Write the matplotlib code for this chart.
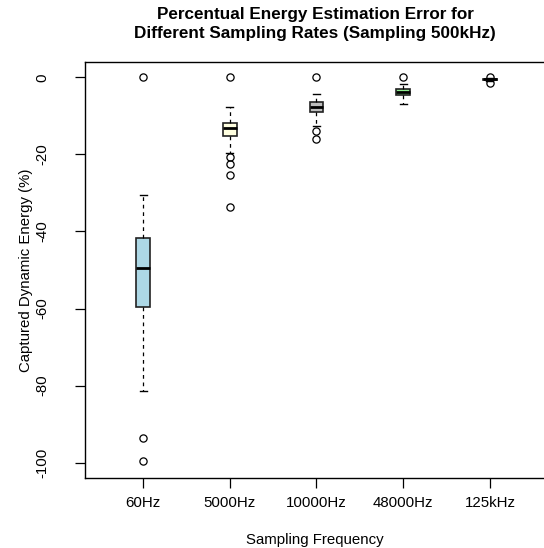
import matplotlib
matplotlib.use("Agg")
import matplotlib.pyplot as plt

plt.rcParams['font.family'] = ['Liberation Sans', 'DejaVu Sans']

# values (captured energy, %)
labels = ["60Hz", "5000Hz", "10000Hz", "48000Hz", "125kHz"]
q1 = [-59.5, -15.3, -8.9, -4.5, -0.8]
med = [-49.6, -13.2, -7.8, -3.8, -0.5]
q3 = [-41.8, -11.9, -6.5, -3.0, -0.3]
whislo = [-81.4, -19.6, -12.6, -6.9, -0.9]
whishi = [-30.6, -7.8, -4.3, -1.8, -0.2]
fliers = [[0.0, -93.7, -99.7],
          [0.0, -20.6, -22.4, -25.3, -33.6],
          [0.0, -13.9, -16.0],
          [0.0],
          [0.0, -1.4]]
colors = ["lightblue", "lightyellow", "#bebebe", "lightgreen", "mistyrose"]

stats = []
for i in range(len(labels)):
    stats.append(dict(q1=q1[i], med=med[i], q3=q3[i], whislo=whislo[i],
                      whishi=whishi[i], fliers=fliers[i], label=labels[i]))

fig = plt.figure(figsize=(5.44, 5.48), dpi=100)
# axes box runs past the right edge like the reference
ax = fig.add_axes([85/544, 1 - 478/548, 520/544, 416/548])

bp = ax.bxp(stats, positions=range(1, 6), widths=0.16, patch_artist=True,
            showfliers=True,
            boxprops=dict(edgecolor="#222222", linewidth=1.2),
            medianprops=dict(color="black", linewidth=2),
            whiskerprops=dict(color="black", linestyle=(0, (3, 3)), linewidth=0.9),
            capprops=dict(color="black", linewidth=1),
            flierprops=dict(marker="o", markerfacecolor="none",
                            markeredgecolor="black", markersize=5.2, markeredgewidth=0.9))
for patch, c in zip(bp["boxes"], colors):
    patch.set_facecolor(c)
for cap in bp["caps"]:
    x = cap.get_xdata()
    m = (x[0] + x[1]) / 2
    cap.set_xdata([m - 0.04, m + 0.04])

ax.set_xlim(0.33, 0.33 + 520/86.7)
ax.set_ylim(-104, 4)
ax.set_yticks([0, -20, -40, -60, -80, -100])
ax.set_yticklabels(["0", "-20", "-40", "-60", "-80", "-100"], rotation=90, va="center")
ax.set_xticks(range(1, 6))
ax.set_xticklabels(labels)
ax.tick_params(direction="out", length=7, width=0.9, labelsize=10.8)
ax.tick_params(axis="x", pad=6)
ax.tick_params(axis="y", pad=19)
for s in ax.spines.values():
    s.set_linewidth(1)

ax.set_xlabel("Sampling Frequency", fontsize=10.8)
ax.set_ylabel("Captured Dynamic Energy (%)", fontsize=10.8)
ax.xaxis.set_label_coords(0.442, -0.133)
ax.yaxis.set_label_coords(-0.1, 0.5)
fig.text(315/544, 1 - 24/548,
         "Percentual Energy Estimation Error for\nDifferent Sampling Rates (Sampling 500kHz)",
         ha="center", va="center", fontsize=12.3, fontweight="bold", linespacing=1.3)

fig.savefig("out.png", dpi=100)
